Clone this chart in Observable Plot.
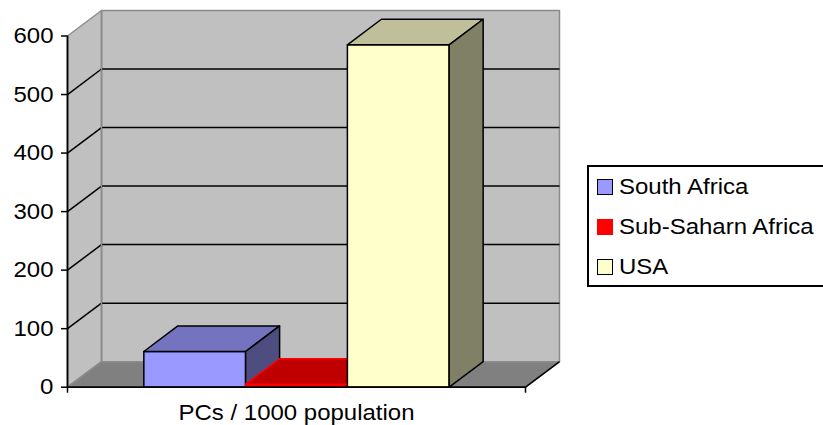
<!DOCTYPE html>
<html>
<head>
<meta charset="utf-8">
<script src="https://cdn.jsdelivr.net/npm/d3@7"></script>
<script src="https://cdn.jsdelivr.net/npm/@observablehq/plot@0.6"></script>
<style>
  html, body { margin: 0; padding: 0; background: #fff; overflow: hidden; }
  #wrap { position: relative; width: 823px; height: 425px; overflow: hidden;
          font-family: "Liberation Sans", Arial, sans-serif; }
  #legend { position: absolute; left: 587px; top: 165px; width: 260px; height: 122px;
            border: 2px solid #000; box-sizing: border-box; background: #fff; }
  .item { position: absolute; left: 8px; height: 24px; display: flex; align-items: center; }
  .sw { width: 14px; height: 14px; border: 1.5px solid #000; margin-right: 6px; flex: none; }
  .lab { font-size: 22px; color: #000; white-space: nowrap; display: inline-block;
         transform: scaleX(1.09); transform-origin: left center; }
</style>
</head>
<body>
<div id="wrap"><div id="chart"></div><div id="legend"></div></div>
<script>
// ---- data ----
const category = "PCs / 1000 population";
const series = ["South Africa", "Sub-Saharn Africa", "USA"];
const values = [61, 5, 585];
const yTicks = [0, 100, 200, 300, 400, 500, 600];
const gridValues = [100, 200, 300, 400, 500];

// ---- styles ----
const frontFill = ["#9999ff", "#ff0000", "#ffffcc"];
const topFill = ["#7373bf", "#c00000", "#bfbf99"];
const sideFill = ["#4d4d80", "#800000", "#808066"];
const edgeStroke = ["#000000", "#ff0000", "#000000"];
const legendBorder = ["#000000", "#ff0000", "#000000"];

// ---- 3D projection parameters (data units) ----
const GAP = 0.75;          // half of a 150% gap width, in bar widths
const DX = 0.334;          // depth offset along x
const DY = 43.6;           // depth offset along y
const YMAX = d3.max(yTicks);
const XMAX = GAP * 2 + series.length;

function face(pts, fill, stroke, sw = 1.5) {
  const closed = pts.concat([pts[0]]);
  return Plot.line(closed, {x: d => d[0], y: d => d[1], fill, stroke, strokeWidth: sw, strokeLinejoin: "round"});
}

const marks = [];
// back wall
marks.push(face([[DX, DY], [XMAX + DX, DY], [XMAX + DX, YMAX + DY], [DX, YMAX + DY]], "#c0c0c0", "#8c8c8c"));
// left wall
marks.push(face([[0, 0], [DX, DY], [DX, YMAX + DY], [0, YMAX]], "#c0c0c0", "#8c8c8c"));
// floor
marks.push(face([[0, 0], [XMAX, 0], [XMAX + DX, DY], [DX, DY]], "#808080", "#8c8c8c"));
// floor right edge
marks.push(Plot.link([0], {x1: () => XMAX, y1: () => 0, x2: () => XMAX + DX, y2: () => DY, stroke: "#000", strokeWidth: 1.5}));
// gridlines on left wall and back wall
marks.push(Plot.link(gridValues, {x1: () => 0, y1: d => d, x2: () => DX, y2: d => d + DY, stroke: "#000", strokeWidth: 1.5}));
marks.push(Plot.link(gridValues, {x1: () => DX, y1: d => d + DY, x2: () => XMAX + DX, y2: d => d + DY, stroke: "#000", strokeWidth: 1.5}));
// back wall vertical edge redrawn on top of gridlines
marks.push(Plot.link([0], {x1: () => DX, y1: () => DY, x2: () => DX, y2: () => YMAX + DY, stroke: "#8c8c8c", strokeWidth: 1.5}));

// bars (left to right for correct overlap)
series.forEach((s, i) => {
  const x0 = GAP + i, x1 = GAP + i + 1, v = values[i];
  marks.push(face([[x0, 0], [x1, 0], [x1, v], [x0, v]], frontFill[i], edgeStroke[i]));
  marks.push(face([[x0, v], [x1, v], [x1 + DX, v + DY], [x0 + DX, v + DY]], topFill[i], edgeStroke[i]));
  marks.push(face([[x1, 0], [x1 + DX, DY], [x1 + DX, v + DY], [x1, v]], sideFill[i], edgeStroke[i]));
});

// axes
marks.push(Plot.ruleX([0], {y1: 0, y2: YMAX, stroke: "#000", strokeWidth: 1.8}));
marks.push(Plot.ruleY([0], {x1: 0, x2: XMAX, stroke: "#000", strokeWidth: 1.8}));
marks.push(Plot.axisY({ticks: yTicks, tickSize: 6, tickPadding: 8, fontSize: 22, strokeWidth: 1.5, tickFormat: d => String(d), label: null}));
marks.push(Plot.axisX({ticks: [0, XMAX], tickSize: 6, strokeWidth: 1.5, tickFormat: () => "", label: null}));
marks.push(Plot.axisX({ticks: [XMAX / 2], tickSize: 0, tickPadding: 17, fontSize: 22, tickFormat: () => category, label: null}));

const chart = Plot.plot({
  width: 823,
  height: 425,
  marginLeft: 67,
  marginRight: 298,
  marginTop: 35.5,
  marginBottom: 38.3,
  x: {type: "linear", domain: [0, XMAX], axis: null},
  y: {type: "linear", domain: [0, YMAX], axis: null},
  style: {fontFamily: "'Liberation Sans', Arial, sans-serif", color: "#000", background: "#fff", overflow: "visible"},
  marks
});
document.getElementById("chart").appendChild(chart);

// widen glyphs slightly to match the reference's stretched text
chart.querySelectorAll("text").forEach(t => {
  if (!t.textContent) return;
  const w = t.getComputedTextLength();
  t.setAttribute("textLength", (w * 1.09).toFixed(1));
  t.setAttribute("lengthAdjust", "spacingAndGlyphs");
});

// legend
const legend = document.getElementById("legend");
const rowTop = [8, 48, 88];
series.forEach((s, i) => {
  const item = document.createElement("div");
  item.className = "item";
  item.style.top = rowTop[i] + "px";
  const sw = document.createElement("span");
  sw.className = "sw";
  sw.style.background = frontFill[i];
  sw.style.borderColor = legendBorder[i];
  const lab = document.createElement("span");
  lab.className = "lab";
  lab.textContent = s;
  item.appendChild(sw);
  item.appendChild(lab);
  legend.appendChild(item);
});
</script>
</body>
</html>
